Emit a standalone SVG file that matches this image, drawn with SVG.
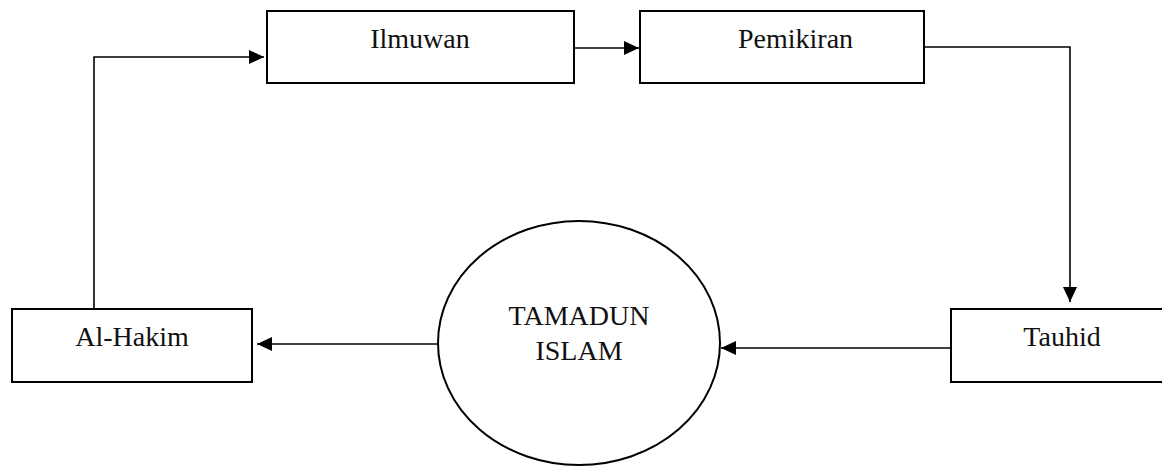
<svg xmlns="http://www.w3.org/2000/svg" width="1162" height="466" viewBox="0 0 1162 466">
<style>
.box{fill:#fff;stroke:#000;stroke-width:2}
.lbl{font-family:"Liberation Serif","Times New Roman",serif;font-size:28px;fill:#111}
.con{fill:none;stroke:#000;stroke-width:1.6}
</style>
<defs>
<marker id="ah" markerWidth="15" markerHeight="14" refX="15" refY="7" orient="auto" markerUnits="userSpaceOnUse">
<path d="M0,0 L15,7 L0,14 Z" fill="#000"/>
</marker>
</defs>
<rect width="1162" height="466" fill="#fff"/>
<g id="connectors">
<path class="con" d="M94,309 V57 H264" marker-end="url(#ah)"/>
<path class="con" d="M574,48 H639" marker-end="url(#ah)"/>
<path class="con" d="M924,47 H1070 V302" marker-end="url(#ah)"/>
<path class="con" d="M951,348 H721" marker-end="url(#ah)"/>
<path class="con" d="M438,344 H257" marker-end="url(#ah)"/>
</g>
<g id="ilmuwan">
<rect class="box" x="267" y="11" width="307" height="72"/>
<text class="lbl" x="420" y="48" text-anchor="middle">Ilmuwan</text>
</g>
<g id="pemikiran">
<rect class="box" x="640" y="11" width="284" height="72"/>
<text class="lbl" x="738" y="48">Pemikiran</text>
</g>
<g id="tauhid">
<rect class="box" x="951" y="309" width="220" height="73"/>
<text class="lbl" x="1062" y="346" text-anchor="middle">Tauhid</text>
</g>
<g id="tamadun">
<ellipse cx="579" cy="343" rx="141" ry="122" fill="#fff" stroke="#000" stroke-width="2"/>
<text class="lbl" x="579" y="325" text-anchor="middle">TAMADUN</text>
<text class="lbl" x="579" y="360" text-anchor="middle">ISLAM</text>
</g>
<g id="alhakim">
<rect class="box" x="12" y="309" width="240" height="73"/>
<text class="lbl" x="132" y="346" text-anchor="middle">Al-Hakim</text>
</g>
</svg>
